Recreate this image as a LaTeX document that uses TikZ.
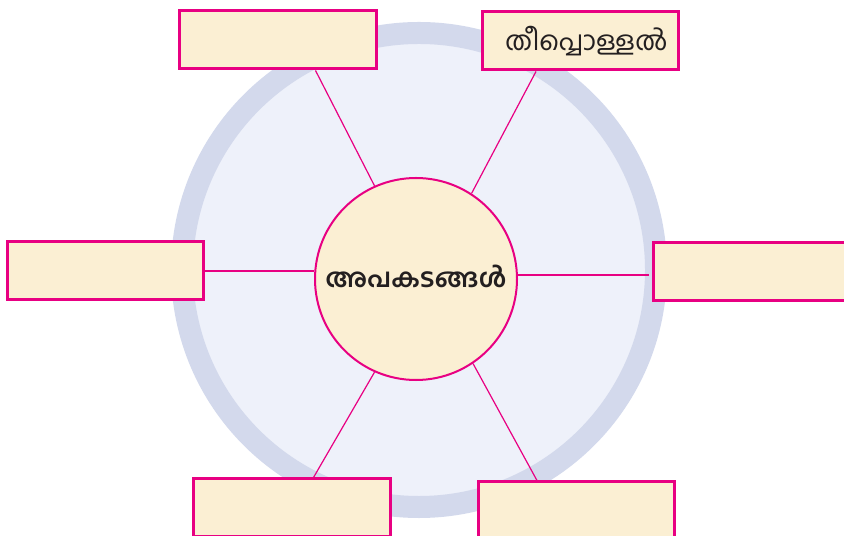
\documentclass[tikz,border=0pt]{standalone}
\usepackage{fontspec}
\newfontfamily\mlfont[Script=Malayalam]{Hind Kochi}
\usetikzlibrary{calc}
\definecolor{rimblue}{RGB}{211,217,236}
\definecolor{innerblue}{RGB}{238,241,250}
\definecolor{cream}{RGB}{251,239,211}
\definecolor{hotpink}{RGB}{232,0,130}
\definecolor{ink}{RGB}{35,31,32}

\begin{document}
\begin{tikzpicture}[
    x=0.25mm, y=-0.25mm,
    blank/.style = {
      rectangle, draw = hotpink, fill = cream,
      line width = 0.75mm,
      minimum width = 49mm, minimum height = 14.5mm,
      inner sep = 0pt, text = ink,
      font = \mlfont\fontsize{19}{23}\selectfont,
    },
    link/.style = {hotpink, line width = 0.3mm},
  ]
  \useasboundingbox (0,0) rectangle (844,536);

  % background disk
  \node (ring) [circle, fill = innerblue, draw = rimblue,
    line width = 5.5mm, minimum size = 118.5mm, inner sep = 0pt]
    at (419,270) {};

  % centre
  \node (C) [circle, draw = hotpink, fill = cream, line width = 0.5mm,
    minimum size = 50.5mm, inner sep = 0pt, text = ink,
    font = \mlfont\bfseries\fontsize{18.5}{22}\selectfont]
    at (416,279) {\raisebox{1.2mm}{അപകടങ്ങൾ}};

  % boxes round it
  \node (TL) [blank] at (278,40) {};
  \node (TR) [blank] at (580.5,41) {\hspace{3mm}തീപ്പൊള്ളൽ};
  \node (L)  [blank] at (105.5,271) {};
  \node (R)  [blank] at (751,272) {};
  \node (BL) [blank] at (292,508) {};
  \node (BR) [blank] at (576.5,511) {};
  \coordinate (Rend) at (649,275);

  \begin{scope}[link]
    \draw (C.114) -- ($(TL.south west)+(137,0)$);
    \draw (C.57)  -- ($(TR.south west)+(55,0)$);
    \draw (L.east) -- (L.east -| C.west);
    \draw (Rend) -- (Rend -| C.east);
    \draw (C.246) -- ($(BL.north west)+(121,0)$);
    \draw (C.-56) -- ($(BR.north west)+(60,0)$);
  \end{scope}
\end{tikzpicture}
\end{document}
